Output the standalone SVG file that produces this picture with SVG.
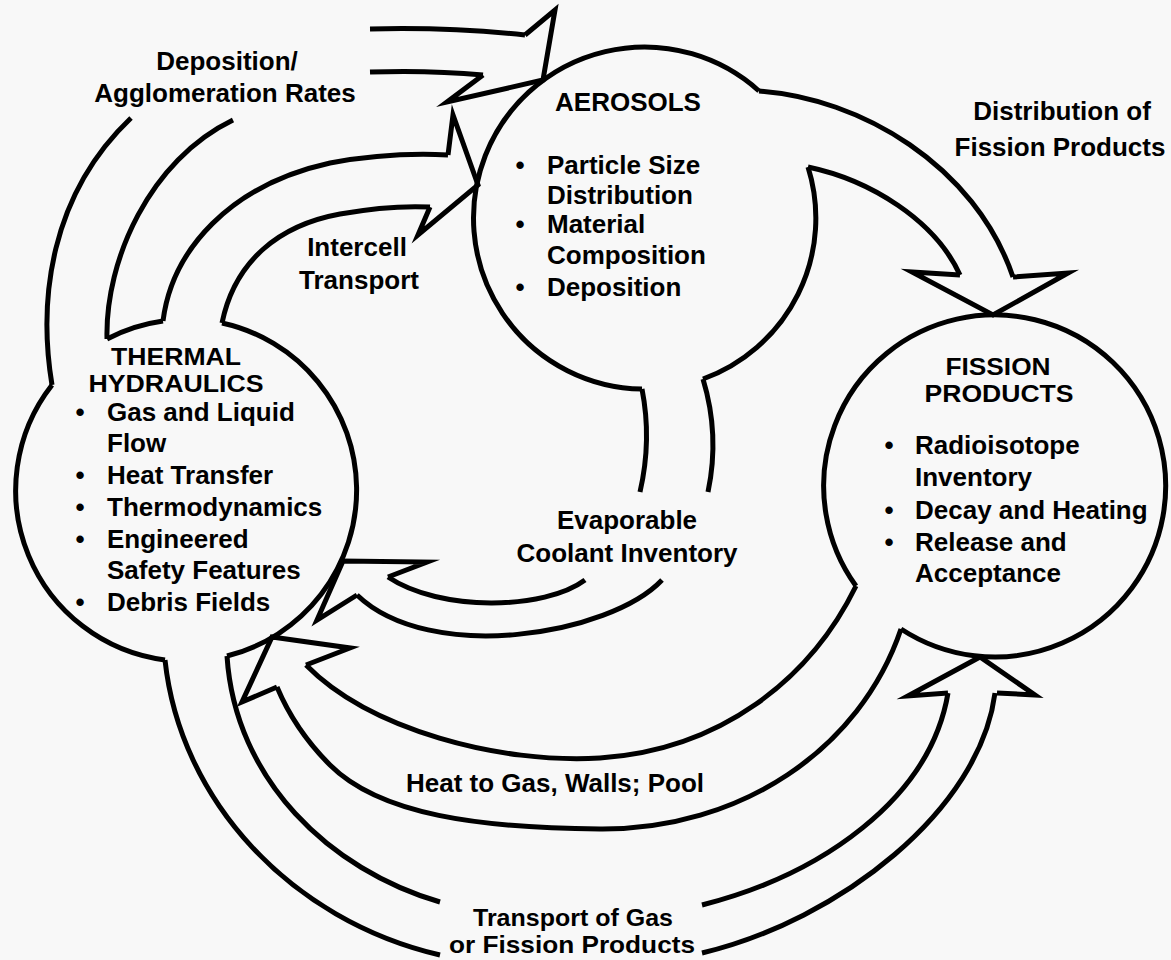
<svg xmlns="http://www.w3.org/2000/svg" width="1171" height="960" viewBox="0 0 1171 960">
<style>
.ln{fill:none;stroke:#000;stroke-width:5;stroke-linejoin:miter;stroke-miterlimit:12;stroke-linecap:butt}
.t{font-family:"Liberation Sans",Arial,Helvetica,sans-serif;font-weight:bold;font-size:26px;fill:#000}
.h{font-size:24px}
.c{text-anchor:middle}
</style>
<rect width="1171" height="960" fill="#f8f8f8"/>

<g id="thermal-hydraulics">
<path class="ln" d="M107,339 A171,171 0 0 1 163,321 M222,323 A171,171 0 0 1 227,656 M165,660 A171,171 0 0 1 52,385"/>
<text class="t h c" x="176" y="365" textLength="130" lengthAdjust="spacingAndGlyphs">THERMAL</text>
<text class="t h c" x="176" y="392" textLength="175" lengthAdjust="spacingAndGlyphs">HYDRAULICS</text>
<text class="t c" x="80" y="421">•</text><text class="t" x="107" y="421">Gas and Liquid</text>
<text class="t" x="107" y="452">Flow</text>
<text class="t c" x="80" y="484">•</text><text class="t" x="107" y="484">Heat Transfer</text>
<text class="t c" x="80" y="516">•</text><text class="t" x="107" y="516">Thermodynamics</text>
<text class="t c" x="80" y="548">•</text><text class="t" x="107" y="548">Engineered</text>
<text class="t" x="107" y="579">Safety Features</text>
<text class="t c" x="80" y="611">•</text><text class="t" x="107" y="611">Debris Fields</text>
</g>

<g id="aerosols">
<path class="ln" d="M808,167 A171,171 0 0 1 703,379 M642,389 A171,171 0 1 1 759,91"/>
<text class="t c" x="628" y="111">AEROSOLS</text>
<text class="t c" x="520" y="174">•</text><text class="t" x="547" y="174">Particle Size</text>
<text class="t" x="547" y="204">Distribution</text>
<text class="t c" x="520" y="233">•</text><text class="t" x="547" y="233">Material</text>
<text class="t" x="547" y="264">Composition</text>
<text class="t c" x="520" y="296">•</text><text class="t" x="547" y="296">Deposition</text>
</g>

<g id="fission-products">
<path class="ln" d="M856,586 A171,171 0 1 1 901,629"/>
<text class="t h c" x="998" y="375" textLength="105" lengthAdjust="spacingAndGlyphs">FISSION</text>
<text class="t h c" x="999" y="402" textLength="149" lengthAdjust="spacingAndGlyphs">PRODUCTS</text>
<text class="t c" x="889" y="454">•</text><text class="t" x="915" y="454">Radioisotope</text>
<text class="t" x="915" y="486">Inventory</text>
<text class="t c" x="889" y="519">•</text><text class="t" x="915" y="519">Decay and Heating</text>
<text class="t c" x="889" y="551">•</text><text class="t" x="915" y="551">Release and</text>
<text class="t" x="915" y="582">Acceptance</text>
</g>

<g id="connectors">
<g id="edge-deposition">
<path class="ln" d="M52,385 C38,300 50,195 131,118"/>
<path class="ln" d="M107,339 C105,260 150,160 233,120"/>
<path class="ln" d="M370,29 Q450,27 525,35"/>
<path class="ln" d="M370,72 Q430,70 483,75"/>
<path class="ln" d="M525,35 L555,10 L543,80 L447,102 L483,75"/>
<text class="t c" x="227" y="70">Deposition/</text>
<text class="t c" x="225" y="102">Agglomeration Rates</text>
</g>
<g id="edge-intercell">
<path class="ln" d="M163,321 C172,250 230,185 330,163 Q390,152 448,155"/>
<path class="ln" d="M222,323 C235,260 280,225 340,214 Q390,205 430,207"/>
<path class="ln" d="M448,155 L453,115 L478,185 L418,235 L430,207"/>
<text class="t c" x="357" y="256">Intercell</text>
<text class="t c" x="359" y="289">Transport</text>
</g>
<g id="edge-distribution">
<path class="ln" d="M759,91 C860,98 975,165 1013,277"/>
<path class="ln" d="M808,167 C870,180 935,220 960,275"/>
<path class="ln" d="M960,275 L912,272 L993,315 L1068,273 L1013,277"/>
<text class="t c" x="1062" y="120">Distribution of</text>
<text class="t c" x="1060" y="156">Fission Products</text>
</g>
<g id="edge-evaporable">
<path class="ln" d="M642,389 Q652,440 640,492"/>
<path class="ln" d="M703,379 Q720,435 708,492"/>
<path class="ln" d="M585,580 C545,610 440,612 388,577"/>
<path class="ln" d="M662,580 C610,635 430,665 357,595"/>
<path class="ln" d="M388,577 L427,562 L343,561 L317,620 L357,595"/>
<text class="t c" x="627" y="529">Evaporable</text>
<text class="t c" x="627" y="562">Coolant Inventory</text>
</g>
<g id="edge-heat">
<path class="ln" d="M856,586 C810,680 720,750 600,758 C500,764 370,730 306,665"/>
<path class="ln" d="M901,629 C860,750 740,830 600,829 C480,828 380,815 330,765 Q295,730 277,687"/>
<path class="ln" d="M306,665 L350,648 L272,637 L242,702 L277,687"/>
<text class="t c" x="555" y="792">Heat to Gas, Walls; Pool</text>
</g>
<g id="edge-transport">
<path class="ln" d="M165,660 C180,800 290,920 440,955"/>
<path class="ln" d="M227,656 C235,780 330,870 440,902"/>
<path class="ln" d="M702,905 C820,875 930,800 948,693"/>
<path class="ln" d="M702,953 C840,920 980,810 995,693"/>
<path class="ln" d="M948,693 L908,696 L980,657 L1035,695 L997,693"/>
<text class="t h c" x="573" y="926" textLength="200" lengthAdjust="spacingAndGlyphs">Transport of Gas</text>
<text class="t h c" x="572" y="953" textLength="246" lengthAdjust="spacingAndGlyphs">or Fission Products</text>
</g>
</g>
</svg>
